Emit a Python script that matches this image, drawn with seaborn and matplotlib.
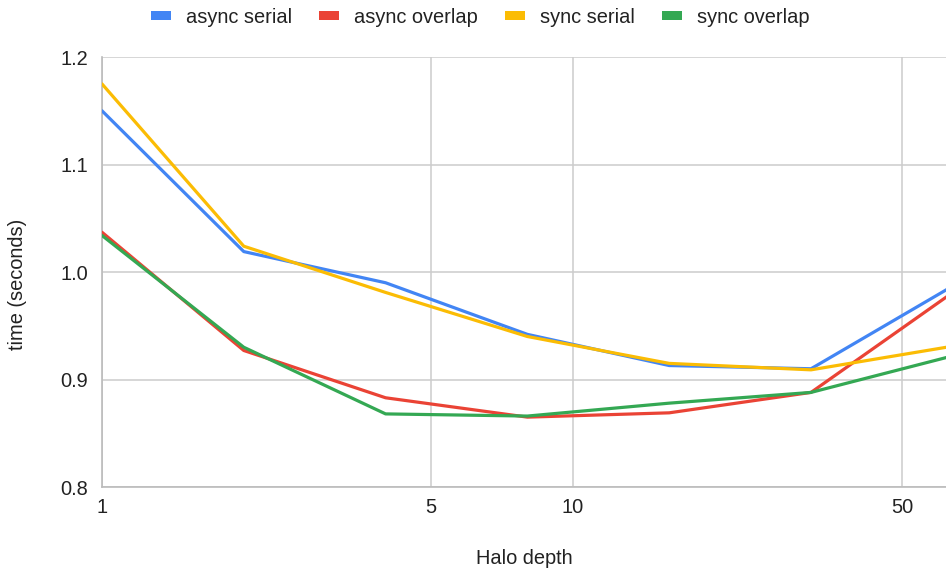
import matplotlib
matplotlib.use("Agg")
import matplotlib.pyplot as plt
from matplotlib.patches import Patch
from matplotlib.ticker import FixedLocator, FixedFormatter, NullLocator
import pandas as pd
import seaborn as sns

# Halo depth values and measured run times (seconds)
halo_depth = [1, 2, 4, 8, 16, 32, 64]
async_serial = [1.150, 1.019, 0.990, 0.942, 0.913, 0.910, 0.987]
async_overlap = [1.037, 0.927, 0.883, 0.865, 0.869, 0.888, 0.981]
sync_serial = [1.175, 1.024, 0.981, 0.940, 0.915, 0.909, 0.931]
sync_overlap = [1.034, 0.930, 0.868, 0.866, 0.878, 0.888, 0.922]

series_names = ["async serial", "async overlap", "sync serial", "sync overlap"]
series_colors = ["#4285F4", "#EA4335", "#FBBC04", "#34A853"]
x_ticks = [1, 5, 10, 50]
y_ticks = [0.8, 0.9, 1.0, 1.1, 1.2]

frames = []
for name, vals in zip(series_names, [async_serial, async_overlap, sync_serial, sync_overlap]):
    frames.append(pd.DataFrame({"Halo depth": halo_depth, "time": vals, "series": name}))
df = pd.concat(frames, ignore_index=True)

sns.set_theme(style="white")
plt.rcParams["font.family"] = ["Liberation Sans", "DejaVu Sans"]

FS = 14.4
TEXT = "#222222"

fig = plt.figure(figsize=(9.46, 5.72), dpi=100)
ax = fig.add_axes([0.1078, 0.1486, 0.8922, 0.7517])

sns.lineplot(data=df, x="Halo depth", y="time", hue="series", hue_order=series_names,
             palette=series_colors, linewidth=2.3, ax=ax, legend=False, zorder=3)

ax.set_xscale("log")
ax.set_xlim(1, 61.9)
ax.set_ylim(0.8, 1.2)
ax.xaxis.set_major_locator(FixedLocator(x_ticks))
ax.xaxis.set_major_formatter(FixedFormatter([str(t) for t in x_ticks]))
ax.xaxis.set_minor_locator(NullLocator())
ax.set_yticks(y_ticks)
ax.set_yticklabels([f"{t:.1f}" for t in y_ticks])

ax.grid(True, which="major", color="#cccccc", linewidth=1.1, zorder=0)
for side in ["top", "right"]:
    ax.spines[side].set_visible(False)
for side in ["left", "bottom"]:
    ax.spines[side].set_color("#bbbbbb")
    ax.spines[side].set_linewidth(1.2)

ax.tick_params(axis="both", length=0, labelsize=FS, labelcolor=TEXT)
ax.tick_params(axis="x", pad=8)
ax.tick_params(axis="y", pad=10)

ax.set_xlabel("Halo depth", fontsize=FS, color=TEXT)
ax.set_ylabel("time (seconds)", fontsize=FS, color=TEXT)
ax.xaxis.set_label_coords(0.5, -0.145)
ax.yaxis.set_label_coords(-0.089, 0.472)

handles = [Patch(facecolor=c, edgecolor="none", label=n) for n, c in zip(series_names, series_colors)]
fig.legend(handles=handles, loc="center", bbox_to_anchor=(0.5074, 0.970), ncol=4,
           frameon=False, fontsize=FS, handlelength=1.0, handleheight=0.28,
           handletextpad=0.75, columnspacing=1.35, labelcolor=TEXT)

fig.savefig("out.png", dpi=100)
